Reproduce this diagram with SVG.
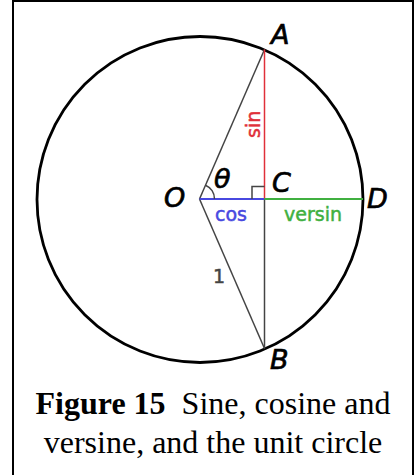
<svg xmlns="http://www.w3.org/2000/svg" width="417" height="475" viewBox="0 0 417 475">
<style>
.lbl{font-family:"DejaVu Sans",sans-serif;font-style:oblique;font-size:27px;fill:#000;stroke:#000;stroke-width:0.7}
.sm{font-family:"DejaVu Sans",sans-serif;font-size:19px;stroke-width:0.5}
.cap{font-family:"Liberation Serif",serif;font-size:32px;fill:#000;text-anchor:middle}
.gray{stroke:#444;stroke-width:1.5;fill:none}
</style>
<rect width="417" height="475" fill="#fff"/>
<path d="M13,475 V1 H413 V475" fill="none" stroke="#000" stroke-width="2"/>
<g id="circle"><circle cx="200" cy="199.5" r="163" fill="none" stroke="#000" stroke-width="2.8"/></g>
<g id="connectors">
<line class="gray" x1="199.5" y1="199" x2="264.5" y2="49.5"/>
<line class="gray" x1="199.5" y1="199" x2="264.5" y2="348.5"/>
<line class="gray" x1="264.5" y1="199" x2="264.5" y2="348.5"/>
<line x1="264.5" y1="49.5" x2="264.5" y2="199" stroke="#e0303a" stroke-width="1.5"/>
<line x1="199.5" y1="199" x2="264.5" y2="199" stroke="#4848e0" stroke-width="2"/>
<line x1="264.5" y1="199" x2="363" y2="199" stroke="#40b040" stroke-width="2"/>
<path class="gray" d="M252,199 V186.5 H264.5"/>
<path class="gray" d="M214.5,199 A15,15 0 0 0 205.5,185.2"/>
</g>
<g id="A"><text class="lbl" x="271" y="44">A</text></g>
<g id="O"><text class="lbl" x="164" y="207">O</text></g>
<g id="C"><text class="lbl" x="272" y="192">C</text></g>
<g id="D"><text class="lbl" x="367" y="208">D</text></g>
<g id="B"><text class="lbl" x="270" y="369">B</text></g>
<g id="theta"><text class="lbl" x="214" y="188">θ</text></g>
<g id="sin"><text class="sm" fill="#e0303a" stroke="#e0303a" transform="translate(260,138) rotate(-90)">sin</text></g>
<g id="cos"><text class="sm" fill="#4848e0" stroke="#4848e0" x="215" y="221">cos</text></g>
<g id="versin"><text class="sm" fill="#40b040" stroke="#40b040" x="284" y="221">versin</text></g>
<g id="one"><text class="sm" fill="#444" stroke="#444" x="213" y="283">1</text></g>
<g id="caption">
<text class="cap" x="213" y="414"><tspan font-weight="bold">Figure 15</tspan>&#160; Sine, cosine and</text>
<text class="cap" x="213" y="453">versine, and the unit circle</text>
</g>
</svg>
